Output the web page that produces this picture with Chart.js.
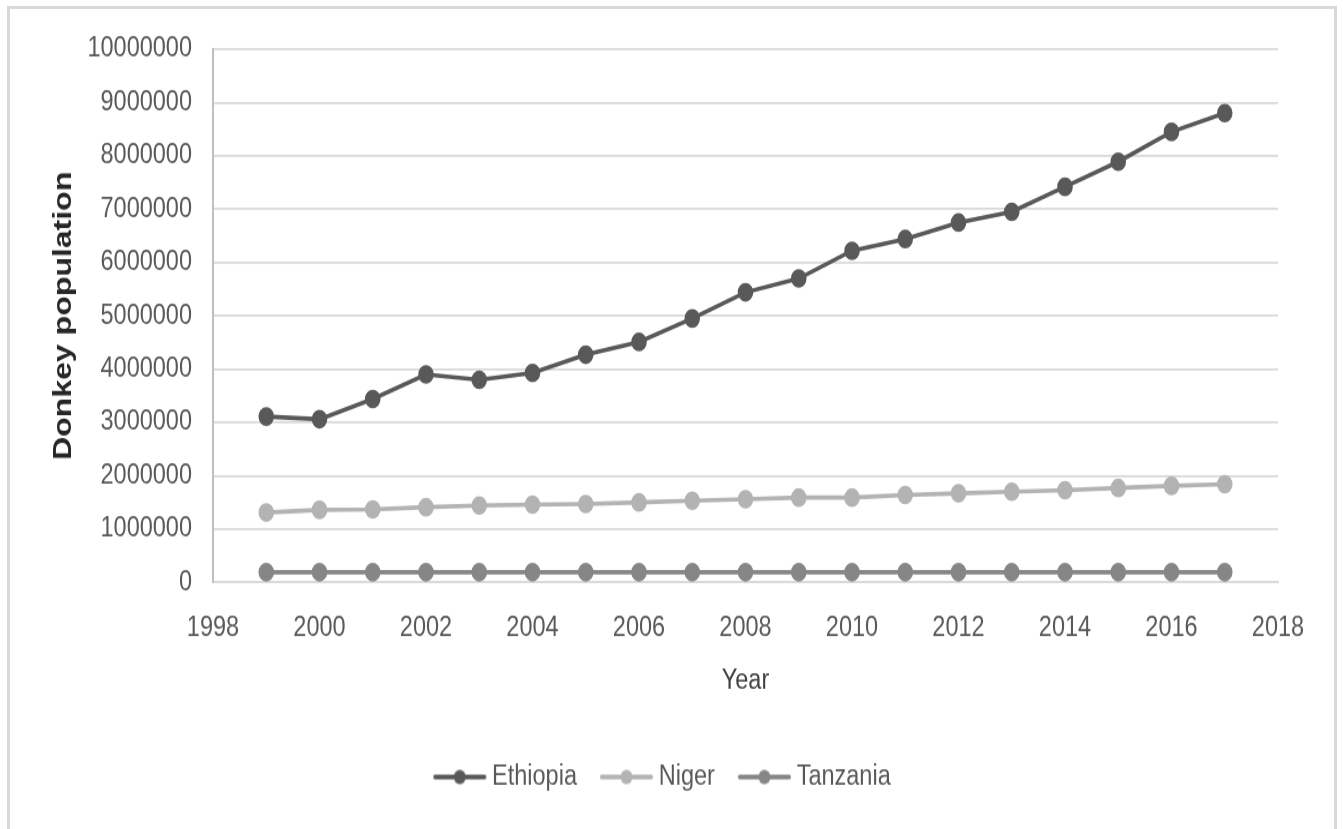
<!DOCTYPE html>
<html>
<head>
    <title>Donkey population</title>
    <script src="https://cdn.jsdelivr.net/npm/chart.js"></script>
    <style>
        body { margin: 0; background: #fff; overflow: hidden; }
        .frame {
            position: absolute; left: 7px; top: 6px;
            width: 1324px; height: 830px;
            border: 3px solid #d9d9d9;
        }
        /* the chart is drawn a bit shorter and stretched to full height */
        #donkeyChart {
            position: absolute; left: 0; top: 0;
            transform: scaleY(1.2); transform-origin: 0 0;
        }
    </style>
</head>
<body>
    <div class="frame"></div>
    <canvas id="donkeyChart" width="1343" height="691"></canvas>

    <script>
        const years = [1999, 2000, 2001, 2002, 2003, 2004, 2005, 2006, 2007, 2008,
                       2009, 2010, 2011, 2012, 2013, 2014, 2015, 2016, 2017];
        const ethiopia = [3110000, 3060000, 3440000, 3900000, 3800000, 3930000, 4270000, 4510000, 4950000, 5440000,
                          5700000, 6220000, 6440000, 6750000, 6950000, 7420000, 7890000, 8450000, 8800000];
        const niger = [1310000, 1360000, 1370000, 1410000, 1440000, 1460000, 1470000, 1500000, 1530000, 1560000,
                       1590000, 1590000, 1640000, 1670000, 1700000, 1730000, 1770000, 1810000, 1840000];
        const tanzania = [190000, 190000, 190000, 190000, 190000, 190000, 190000, 190000, 190000, 190000,
                          190000, 190000, 190000, 190000, 190000, 190000, 190000, 190000, 190000];
        const xTicks = [1998, 2000, 2002, 2004, 2006, 2008, 2010, 2012, 2014, 2016, 2018];
        const yTicks = [0, 1000000, 2000000, 3000000, 4000000, 5000000, 6000000, 7000000, 8000000, 9000000, 10000000];

        const colors = ['#595959', '#b3b3b3', '#868686'];
        const labelFont = '"Liberation Sans", Arial, sans-serif';

        // line-with-dot swatch for the legend
        function swatch(color) {
            const c = document.createElement('canvas');
            c.width = 55; c.height = 14;
            const g = c.getContext('2d');
            g.strokeStyle = color; g.lineWidth = 4.2; g.lineCap = 'round';
            g.beginPath(); g.moveTo(3, 7); g.lineTo(52, 7); g.stroke();
            g.fillStyle = color;
            g.beginPath(); g.arc(27.5, 7, 6, 0, Math.PI * 2); g.fill();
            return c;
        }
        const swatches = colors.map(swatch);

        function series(label, values, color) {
            return {
                label: label,
                data: years.map((y, i) => ({ x: y, y: values[i] })),
                borderColor: color,
                backgroundColor: color,
                borderWidth: 3.6,
                pointRadius: 6,
                pointHoverRadius: 6,
                pointStyle: 'circle',
                fill: false,
                tension: 0
            };
        }

        const ctx = document.getElementById('donkeyChart').getContext('2d');
        const chart = new Chart(ctx, {
            type: 'line',
            data: {
                datasets: [
                    series('Ethiopia', ethiopia, colors[0]),
                    series('Niger', niger, colors[1]),
                    series('Tanzania', tanzania, colors[2])
                ]
            },
            options: {
                responsive: false,
                animation: false,
                layout: { padding: { top: 41, right: 65, bottom: 21.75, left: 52 } },
                plugins: {
                    tooltip: { enabled: false },
                    legend: {
                        position: 'bottom',
                        labels: {
                            usePointStyle: true,
                            pointStyleWidth: 41,
                            padding: 29,
                            color: '#595959',
                            font: { family: labelFont, size: 23.5 },
                            generateLabels: c => Chart.defaults.plugins.legend.labels.generateLabels(c)
                                .map(l => Object.assign(l, { pointStyle: swatches[l.datasetIndex] }))
                        }
                    }
                },
                scales: {
                    x: {
                        type: 'linear',
                        min: 1998,
                        max: 2018,
                        afterBuildTicks: s => { s.ticks = xTicks.map(v => ({ value: v })); },
                        afterFit: s => { s.height = 121.45; },
                        grid: { display: false, drawTicks: false },
                        border: { display: true, color: '#d9d9d9', width: 1.8 },
                        ticks: {
                            padding: 24.6,
                            color: '#595959',
                            font: { family: labelFont, size: 23.5 },
                            maxRotation: 0,
                            callback: v => String(v)
                        },
                        title: {
                            display: true,
                            text: 'Year',
                            color: '#404040',
                            padding: { top: 0, bottom: 25.15 },
                            font: { family: labelFont, size: 23.5 }
                        }
                    },
                    y: {
                        min: 0,
                        max: 10000000,
                        afterBuildTicks: s => { s.ticks = yTicks.map(v => ({ value: v })); },
                        afterFit: s => { s.width = 161; },
                        grid: { color: '#d9d9d9', lineWidth: 1.7, drawTicks: false },
                        border: { display: true, color: '#bfbfbf', width: 2 },
                        ticks: {
                            padding: 21,
                            color: '#595959',
                            font: { family: labelFont, size: 23.5 },
                            callback: v => String(v)
                        },
                        title: {
                            display: true,
                            text: 'Donkey population',
                            color: '#262626',
                            padding: { top: 0, bottom: 0 },
                            font: { family: labelFont, size: 26.7, weight: 'bold', lineHeight: 0.85 }
                        }
                    }
                }
            }
        });
    </script>
</body>
</html>
